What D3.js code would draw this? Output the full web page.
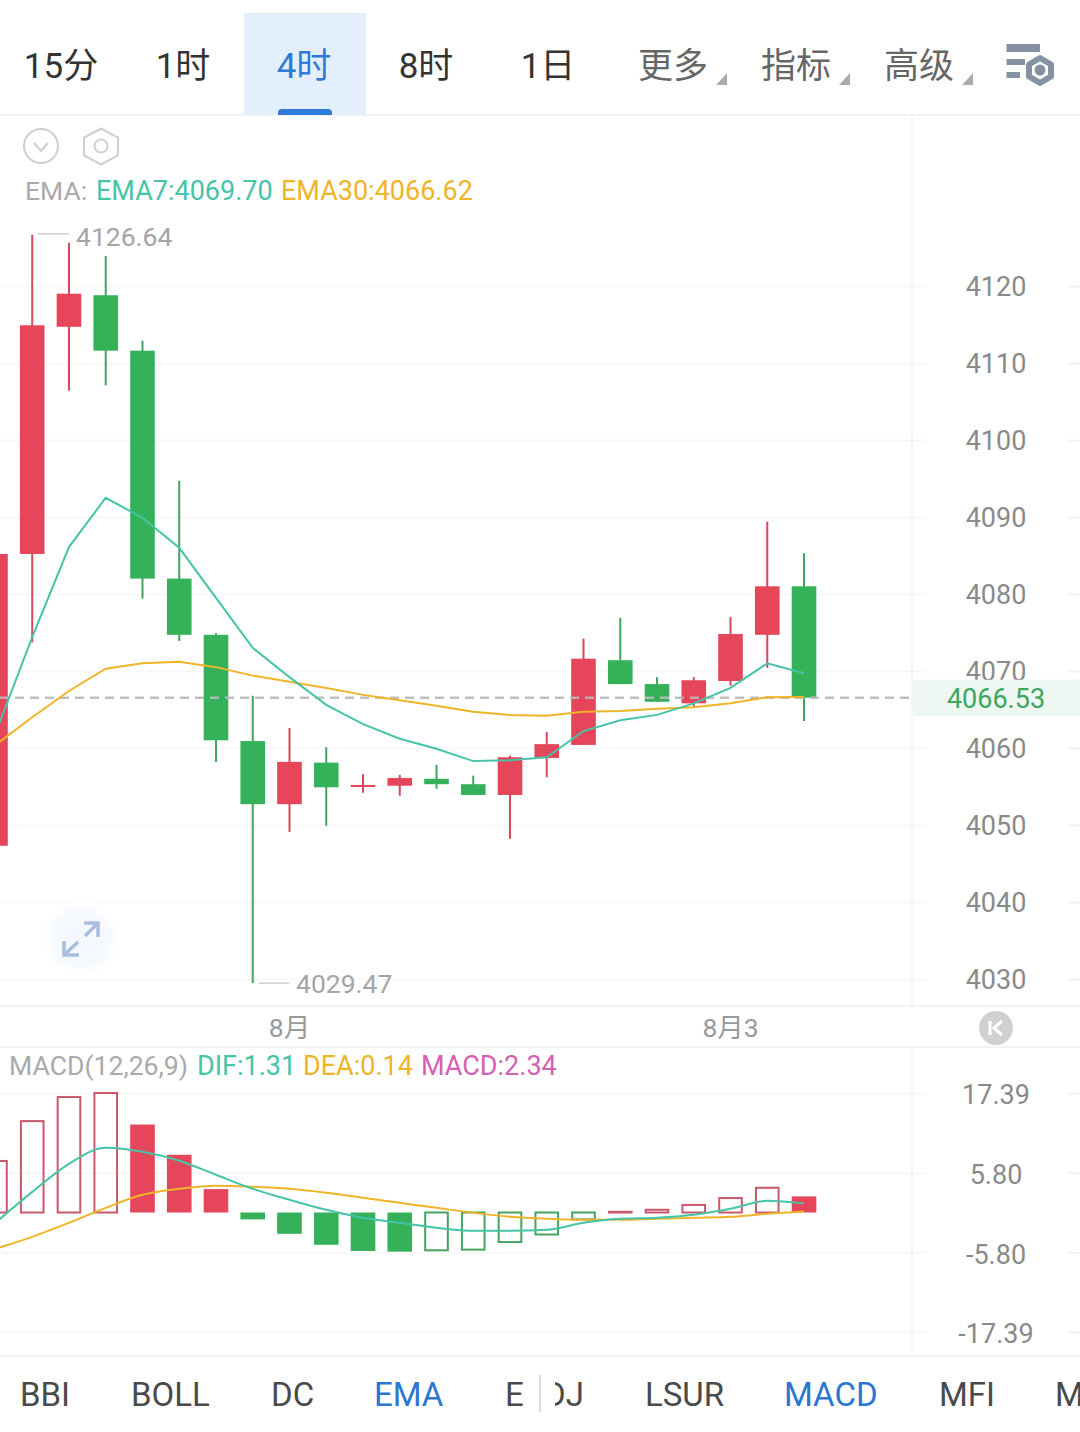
<!DOCTYPE html>
<html><head><meta charset="utf-8">
<script src="https://cdn.jsdelivr.net/npm/d3@7/dist/d3.min.js"></script>
<style>
html,body{margin:0;padding:0;background:#fff;overflow:hidden}
svg{display:block}
text{font-family:Roboto,"Noto Sans CJK SC",sans-serif}
</style></head><body>
<svg id="c" width="1080" height="1432"></svg>
<script>
const categories=["7-30 16","7-30 20","7-31 00","7-31 04","7-31 08","7-31 12","7-31 16","7-31 20","8-01 00","8-01 04","8-01 08","8-01 12","8-01 16","8-01 20","8-02 00","8-02 04","8-02 08","8-02 12","8-02 16","8-02 20","8-03 00","8-03 04","8-03 08"];
const opens =[4047.3,4085.2,4114.7,4118.8,4111.6,4082.0,4074.7,4060.9,4052.7,4058.1,4055.1,4055.1,4056.0,4055.3,4053.9,4058.7,4060.4,4071.4,4068.3,4065.8,4068.7,4074.7,4081.0];
const closes=[4085.2,4114.9,4119.0,4111.6,4082.0,4074.7,4061.0,4052.7,4058.2,4054.9,4055.2,4056.1,4055.3,4053.9,4058.8,4060.5,4071.6,4068.3,4066.0,4068.8,4074.8,4081.0,4066.53];
const highs =[4090.0,4126.64,4125.6,4123.9,4112.9,4094.7,4074.9,4066.8,4062.6,4060.1,4056.6,4056.5,4057.8,4056.4,4059.0,4062.1,4074.2,4076.9,4069.2,4069.2,4077.0,4089.4,4085.3];
const lows  =[4045.0,4073.7,4106.4,4107.1,4079.4,4073.9,4058.2,4029.47,4049.1,4049.9,4054.2,4053.8,4054.7,4053.9,4048.2,4056.2,4060.4,4068.3,4066.0,4065.3,4068.1,4070.4,4063.5];
const ema7  =[4061.9,4074.4,4086.1,4092.5,4089.9,4086.0,4079.5,4073.0,4069.2,4065.6,4063.1,4061.2,4059.9,4058.3,4058.4,4058.8,4062.2,4063.6,4064.3,4065.8,4067.8,4071.0,4069.70];
const ema30 =[4060.4,4064.0,4067.4,4070.3,4071.0,4071.2,4070.5,4069.4,4068.6,4067.8,4066.9,4066.2,4065.5,4064.7,4064.3,4064.2,4064.7,4064.8,4065.1,4065.3,4065.8,4066.6,4066.62];
const macd  =[7.5,13.3,16.8,17.39,12.8,8.4,3.4,-1.0,-3.1,-4.7,-5.6,-5.7,-5.5,-5.4,-4.3,-3.2,-1.0,0.1,0.4,1.1,2.1,3.6,2.34];
const dif   =[-1.5,3.0,7.09,9.42,8.84,7.53,5.49,3.45,1.85,0.39,-0.77,-1.5,-2.23,-2.66,-2.66,-2.52,-1.5,-0.92,-0.77,-0.33,0.54,1.7,1.31];
const dea   =[-5.28,-3.54,-1.5,0.68,2.58,3.45,3.89,3.74,3.45,2.87,2.14,1.41,0.68,-0.04,-0.63,-0.92,-1.06,-1.06,-0.92,-0.77,-0.63,-0.19,0.14];
const priceTicks=[4120,4110,4100,4090,4080,4070,4060,4050,4040,4030];
const macdTicks=[17.39,5.80,-5.80,-17.39];
const xTickCats=["8-01 00","8-03 00"];
const xTickNames=["8月","8月3"];
const topTabs=["15分","1时","4时","8时","1日","更多","指标","高级"];
const bottomTabs=["BBI","BOLL","DC","EMA","E","DJ","LSUR","MACD","MFI","M"];
const lastPrice=4066.53, maxPrice=4126.64, minPrice=4029.47;

const RED="#e6465a",GREEN="#35b259",REDW="#d8475c",GREENW="#3fa55f",REDH="#c9596a",GREENH="#46a35f",TEAL="#45c4a8",GOLD="#f0b429",PINK="#d65fb4";
const svg=d3.select("#c");
const x=d3.scaleBand().domain(categories).range([-22.9,822.4]).paddingInner(0.33).paddingOuter(0.165);
const cx=i=>x(categories[i])+x.bandwidth()/2;
const y=d3.scaleLinear().domain([4030,4120]).range([979,286]);
const m=d3.scaleLinear().domain([-17.39,17.39]).range([1332,1093]);

function txt(g,s,xx,yy,size,fill,anchor){return g.append("text").attr("x",xx).attr("y",yy).attr("font-size",size).attr("fill",fill).attr("text-anchor",anchor||"start").text(s);}

// ---- structural lines
const frameG=svg.append("g").attr("stroke","#f2f2f2").attr("stroke-width",2);
[115,1006,1047,1356].forEach(v=>frameG.append("line").attr("x1",0).attr("x2",1080).attr("y1",v).attr("y2",v));
[[115,1006],[1047,1356]].forEach(r=>frameG.append("line").attr("x1",912).attr("x2",912).attr("y1",r[0]).attr("y2",r[1]).attr("stroke","#f5f5f5"));

// ---- top tabs
const topG=svg.append("g");
topG.append("rect").attr("x",244).attr("y",13).attr("width",122).attr("height",102).attr("fill","#e3effc");
topG.append("path").attr("d","M278 115v-2a4 4 0 0 1 4-4h46a4 4 0 0 1 4 4v2z").attr("fill","#2f7bd9");
const tabX=[61,183,304,426,548,673,796,919];
const tabCol=["#333","#333","#2f7bd9","#333","#333","#666","#666","#666"];
topTabs.forEach((t,i)=>txt(topG,t,tabX[i],78,35,tabCol[i],"middle"));
[727,850,973].forEach(r=>topG.append("path").attr("d",`M${r} 73V85H${r-11}Z`).attr("fill","#a9adb2"));
const ic=topG.append("g").attr("fill","#8592a3");
ic.append("rect").attr("x",1006.5).attr("y",44).attr("width",33.5).attr("height",8);
ic.append("rect").attr("x",1006.5).attr("y",59).attr("width",18.5).attr("height",6);
ic.append("rect").attr("x",1006.5).attr("y",72).attr("width",13.5).attr("height",6);
topG.append("path").attr("d","M1040 58l11 6.5v12l-11 6.5l-11-6.5v-12z").attr("fill","#fff").attr("stroke","#8592a3").attr("stroke-width",6).attr("stroke-linejoin","round");
topG.append("circle").attr("cx",1040).attr("cy",70).attr("r",5.5).attr("fill","#8592a3");

// ---- small icons and legend
const ico=svg.append("g").attr("fill","none").attr("stroke","#ccd0d4").attr("stroke-width",2);
ico.append("circle").attr("cx",41).attr("cy",146).attr("r",17);
ico.append("path").attr("d","M34 143l7 8l7-8");
ico.append("path").attr("d","M101 128.5l17 9v18l-17 9l-17-9v-18z");
ico.append("circle").attr("cx",101).attr("cy",146).attr("r",6.5);
const lg=svg.append("g");
txt(lg,"EMA:",25,200,26.5,"#aaaaaa");
txt(lg,"EMA7:4069.70",96,200,27,TEAL);
txt(lg,"EMA30:4066.62",281,200,27,GOLD);

// ---- grids via axes
function grid(scale,ticks){
  svg.append("g").attr("transform","translate(925,0)")
    .call(d3.axisLeft(scale).tickValues(ticks).tickSize(925).tickFormat(""))
    .call(g=>g.select(".domain").remove())
    .call(g=>g.selectAll("line").attr("stroke","#f7f7f7").attr("stroke-width",2));
  svg.append("g").attr("transform","translate(1068,0)")
    .call(d3.axisRight(scale).tickValues(ticks).tickSize(12).tickFormat(""))
    .call(g=>g.select(".domain").remove())
    .call(g=>g.selectAll("line").attr("stroke","#f2f2f2").attr("stroke-width",2));
}
grid(y,priceTicks); grid(m,macdTicks);

function labels(scale,ticks,fmt,size,dy){
  svg.append("g").attr("transform","translate(996,0)")
    .call(d3.axisRight(scale).tickValues(ticks).tickSize(0).tickPadding(0).tickFormat(fmt))
    .call(g=>g.select(".domain").remove())
    .call(g=>g.selectAll("text").attr("x",0).attr("dy",dy).attr("text-anchor","middle")
      .attr("font-size",size).attr("font-family",'Roboto,sans-serif').attr("fill","#8a8a8a"));
}
labels(y,priceTicks,d3.format("d"),27,"0.36em");
labels(m,macdTicks,d=>d.toFixed(2),27,"0.4em");

// ---- x axis
svg.append("g").attr("transform","translate(0,1006)")
  .call(d3.axisBottom(x).tickValues(xTickCats).tickSize(0).tickPadding(0).tickFormat(d=>xTickNames[xTickCats.indexOf(d)]))
  .call(g=>g.select(".domain").remove())
  .call(g=>g.selectAll("text").attr("y",31).attr("dy",0).attr("font-size",26.5)
     .attr("font-family",'Roboto,"Noto Sans CJK SC",sans-serif').attr("fill","#999"));
svg.append("circle").attr("cx",996).attr("cy",1028).attr("r",17).attr("fill","#d0d0d0");
svg.append("path").attr("d","M990 1021v14M1002 1021l-8 7l8 7").attr("fill","none").attr("stroke","#fff").attr("stroke-width",3);

// ---- candles
const idx=d3.range(categories.length);
const cand=svg.append("g");
const isUp=i=>closes[i]>=opens[i];
cand.selectAll("line").data(idx).join("line")
  .attr("x1",cx).attr("x2",cx).attr("y1",i=>y(highs[i])).attr("y2",i=>y(lows[i]))
  .attr("stroke",i=>isUp(i)?REDW:GREENW).attr("stroke-width",2);
cand.selectAll("rect").data(idx).join("rect")
  .attr("x",i=>x(categories[i])).attr("width",x.bandwidth())
  .attr("y",i=>y(Math.max(opens[i],closes[i])))
  .attr("height",i=>Math.max(2,Math.abs(y(opens[i])-y(closes[i]))))
  .attr("fill",i=>isUp(i)?RED:GREEN);

// ---- last price line
svg.append("line").attr("x1",0).attr("x2",912).attr("y1",y(lastPrice)).attr("y2",y(lastPrice))
  .attr("stroke","#b8b8b8").attr("stroke-opacity",.9).attr("stroke-width",2.5).attr("stroke-dasharray","9 6");
svg.append("rect").attr("x",913).attr("y",y(lastPrice)-18).attr("width",167).attr("height",36).attr("fill","#eef7f1");
txt(svg,lastPrice.toFixed(2),996,y(lastPrice)+10.5,27,"#3aa860","middle");

// ---- EMA lines
const lineP=a=>d3.line().x((d,i)=>cx(i)).y(d=>y(d))(a);
svg.append("path").attr("d",lineP(ema30)).attr("fill","none").attr("stroke",GOLD).attr("stroke-width",2);
svg.append("path").attr("d",lineP(ema7)).attr("fill","none").attr("stroke",TEAL).attr("stroke-width",2);

// ---- extreme labels
const ext=svg.append("g");
ext.append("line").attr("x1",38).attr("x2",69).attr("y1",y(maxPrice)-1).attr("y2",y(maxPrice)-1).attr("stroke","#ccc").attr("stroke-width",1.5);
txt(ext,maxPrice.toFixed(2),76,246,26.5,"#a5a5a5");
ext.append("line").attr("x1",259).attr("x2",289).attr("y1",y(minPrice)).attr("y2",y(minPrice)).attr("stroke","#ccc").attr("stroke-width",1.5);
txt(ext,minPrice.toFixed(2),296,993,26.5,"#a5a5a5");

// ---- expand button
const defs=svg.append("defs");
const rg=defs.append("radialGradient").attr("id","glow");
rg.append("stop").attr("offset","0%").attr("stop-color","#f4f8fe");
rg.append("stop").attr("offset","70%").attr("stop-color","#f6f9fe");
rg.append("stop").attr("offset","100%").attr("stop-color","#ffffff");
svg.append("circle").attr("cx",81).attr("cy",938).attr("r",38).attr("fill","url(#glow)");
svg.append("path").attr("d","M84 923h14v14M98 923l-13 13M64 941v14h15M64 955l14-13").attr("fill","none").attr("stroke","#a9bde3").attr("stroke-width",3.5);

// ---- MACD
const mg=svg.append("g");
txt(mg,"MACD(12,26,9)",9,1075,26.6,"#aaaaaa");
txt(mg,"DIF:1.31",197,1075,27,TEAL);
txt(mg,"DEA:0.14",303,1075,27,GOLD);
txt(mg,"MACD:2.34",421,1075,27,PINK);
const hollow=i=>i===0||macd[i]>=macd[i-1];
mg.selectAll("rect").data(idx).join("rect")
  .attr("x",i=>x(categories[i])+(hollow(i)?1:0))
  .attr("width",i=>x.bandwidth()-(hollow(i)?2:0))
  .attr("y",i=>Math.min(m(macd[i]),m(0)))
  .attr("height",i=>Math.abs(m(macd[i])-m(0)))
  .attr("fill",i=>hollow(i)?"#fff":(macd[i]>=0?RED:GREEN))
  .attr("fill-opacity",i=>hollow(i)?0:1)
  .attr("stroke",i=>hollow(i)?(macd[i]>=0?REDH:GREENH):"none")
  .attr("stroke-width",2);
const lineM=d3.line().x((d,i)=>cx(i)).y(d=>m(d)).curve(d3.curveMonotoneX);
svg.append("path").attr("d",lineM(dea)).attr("fill","none").attr("stroke",GOLD).attr("stroke-width",2);
svg.append("path").attr("d",lineM(dif)).attr("fill","none").attr("stroke",TEAL).attr("stroke-width",2);

// ---- bottom tabs
const bt=svg.append("g");
const btX=[20,131,271,374,505,544,645,784,939,1055];
const btCol=["#4a4a4a","#4a4a4a","#4a4a4a","#2a76d2","#4a4a4a","#4a4a4a","#4a4a4a","#2a76d2","#4a4a4a","#4a4a4a"];
defs.append("clipPath").attr("id","clipR").attr("clipPathUnits","userSpaceOnUse").append("rect").attr("x",555).attr("y",1360).attr("width",525).attr("height",72);
bottomTabs.forEach((t,i)=>{
  const e=txt(bt,t,btX[i],1406,33,btCol[i]);
  if(t==="DJ") e.attr("clip-path","url(#clipR)");
});
bt.append("line").attr("x1",540).attr("x2",540).attr("y1",1375).attr("y2",1412).attr("stroke","#dcdcdc").attr("stroke-width",2);
</script>
</body></html>
